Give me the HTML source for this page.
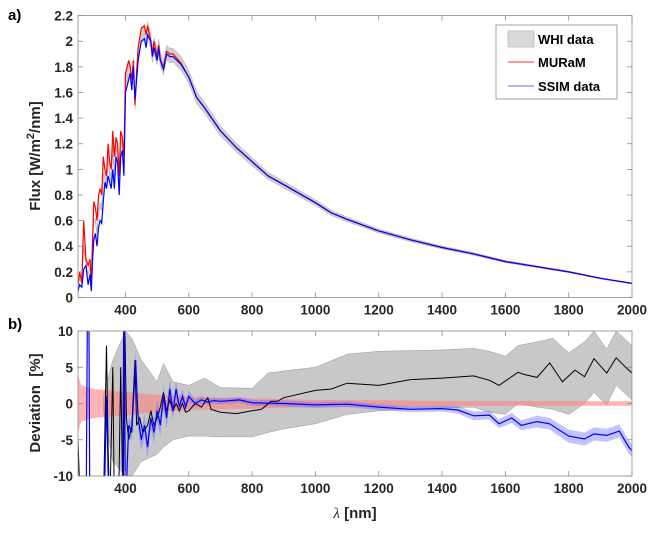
<!DOCTYPE html>
<html><head><meta charset="utf-8"><style>
html,body{margin:0;padding:0;background:#fff;}
svg{display:block;font-family:"Liberation Sans",Arial,sans-serif;}
.tk{font-size:13.5px;font-weight:bold;fill:#262626;}
</style></head><body>
<svg id="chart" width="654" height="535" viewBox="0 0 654 535">
<g id="pa"></g>
<g id="pb"></g>
<text x="8" y="20" style="font-size:15px;font-weight:bold">a)</text>
<text x="8" y="329" style="font-size:15px;font-weight:bold">b)</text>
<text transform="translate(40,156) rotate(-90)" text-anchor="middle" style="font-size:15px;font-weight:bold;fill:#262626">Flux [W/m<tspan dy="-6" font-size="11">2</tspan><tspan dy="6">/nm]</tspan></text>
<text transform="translate(40,403) rotate(-90)" text-anchor="middle" style="font-size:15px;font-weight:bold;fill:#262626">Deviation&#160;&#160;[%]</text>
<text x="355" y="518" text-anchor="middle" style="font-size:15px;font-weight:bold;fill:#262626"><tspan font-family="Liberation Serif" font-style="italic" font-weight="normal">λ</tspan> [nm]</text>
<g>
<rect x="496" y="25" width="121" height="74" fill="#fff" stroke="#8c8c8c" stroke-width="0.8"/>
<rect x="508" y="31" width="26" height="16" fill="#d9d9d9" stroke="#aaa" stroke-width="0.6"/>
<text x="538" y="44" style="font-size:13px;font-weight:bold">WHI data</text>
<line x1="508" y1="62" x2="534" y2="62" stroke="#ff3030" stroke-width="1"/>
<text x="538" y="67" style="font-size:13px;font-weight:bold">MURaM</text>
<line x1="508" y1="86" x2="534" y2="86" stroke="#9999ff" stroke-width="1.5"/>
<text x="538" y="91" style="font-size:13px;font-weight:bold">SSIM data</text>
</g>
</svg>
<script>
// ---- Panel a data ----
const wlA=[250,255,262,268,275,282,288,292,296,300,305,310,315,320,325,330,335,340,345,350,355,360,365,370,375,380,385,390,395,400,405,410,415,420,425,430,435,440,450,460,465,470,480,485,490,500,505,510,520,530,540,550,575,600,625,650,700,750,800,850,900,1000,1050,1100,1200,1300,1400,1500,1600,1700,1800,1900,2000];
const ssimA=[0.05,0.1,0.08,0.22,0.25,0.1,0.18,0.05,0.3,0.45,0.5,0.4,0.55,0.6,0.58,0.75,0.9,0.85,0.95,0.9,0.85,1.0,0.85,1.1,1.05,0.8,1.1,1.15,0.95,1.6,1.65,1.7,1.75,1.62,1.8,1.55,1.7,1.85,2.0,2.02,1.95,2.05,2.0,1.88,1.95,1.85,1.95,1.85,1.78,1.9,1.88,1.88,1.82,1.72,1.56,1.48,1.3,1.17,1.06,0.95,0.88,0.74,0.66,0.61,0.52,0.45,0.39,0.34,0.28,0.24,0.2,0.15,0.11];
const muramA=[0.1,0.2,0.12,0.6,0.3,0.25,0.3,0.1,0.45,0.75,0.7,0.6,0.8,0.85,0.8,1.1,1.0,0.95,1.2,1.05,1.0,1.3,1.1,1.25,1.2,0.95,1.3,1.25,1.1,1.75,1.8,1.85,1.8,1.7,1.85,1.5,1.75,1.95,2.1,2.12,2.05,2.12,2.0,1.9,2.0,1.88,1.97,1.86,1.8,1.92,1.9,1.9,1.83,1.72,1.56,1.48,1.3,1.17,1.06,0.95,0.88,0.74,0.66,0.61,0.52,0.45,0.39,0.34,0.28,0.24,0.2,0.15,0.11];
const whiA=[0.07,0.15,0.1,0.4,0.27,0.18,0.24,0.08,0.38,0.6,0.6,0.5,0.67,0.72,0.7,0.92,0.95,0.9,1.07,0.97,0.92,1.15,0.97,1.17,1.12,0.87,1.2,1.2,1.02,1.67,1.72,1.77,1.77,1.66,1.82,1.52,1.72,1.9,2.05,2.07,2.0,2.09,2.0,1.89,1.97,1.87,1.96,1.86,1.79,1.91,1.89,1.89,1.83,1.72,1.56,1.48,1.3,1.17,1.06,0.95,0.88,0.74,0.66,0.61,0.52,0.45,0.39,0.34,0.28,0.24,0.2,0.15,0.11];
const whiErrPct=[3,3,3,3,3,3,3,3,3,3,3,3,3,3,3,3,3,3,3,3,3,3,3,3,3,3,3,3,3,3,3,3,3,3,3,3,3,3,3,3,3,3,3,3,3,3,3,3,3,3,3,3,3,3,3,3,3,3,3,3,3,3,3,3,3,3,3,3,3,3,3,3,3];
const yTicksA=[0,0.2,0.4,0.6,0.8,1,1.2,1.4,1.6,1.8,2,2.2];
const xTicks=[400,600,800,1000,1200,1400,1600,1800,2000];
// ---- Panel b data ----
const wlBlk=[250,258,330,340,345,350,360,365,378,385,392,398,403,410,420,430,435,445,455,470,480,490,500,510,520,530,540,550,560,570,580,590,600,620,640,660,670,700,750,800,830,860,880,900,1000,1050,1100,1200,1300,1400,1500,1550,1580,1640,1660,1700,1740,1780,1820,1850,1880,1920,1950,1980,2000];
const devBlk=[-5,-15,-15,8,-6,-15,5,-15,-15,5,-15,10,-2,-5,-3,6,-3,-2,-4,-3,-1,-3,-2,-0.5,1.5,-1,0.5,-1,0,-1,0,-1.2,-1,0,-0.5,0.8,-0.8,-1.2,-1.4,-1.0,-0.8,0.3,0.3,0.8,1.8,2.0,2.8,2.5,3.3,3.5,3.8,3.2,2.5,4.3,4.0,3.6,5.6,3.0,4.6,3.7,6.2,4.2,6.3,5.0,4.2];
const wlBand=[330,360,400,420,450,500,520,550,600,650,700,800,850,900,1000,1100,1200,1300,1400,1500,1550,1600,1640,1700,1750,1800,1850,1880,1920,1950,2000];
const bandHi=[1,6,10,9,6,3,5.5,3,2.5,3.5,2.2,2.1,4.2,4.5,5,6.8,7.2,7.3,7.4,7.6,7.2,6.5,8,8.5,9,7,8.5,10,7.5,10,8];
const bandLo=[-1,-8,-10,-10,-8,-7,-6,-5,-4.5,-4.5,-4.6,-4.6,-4,-3.5,-2.8,-1.5,-1,-0.8,-0.6,-0.5,-1.2,-1.5,0,-0.5,-0.8,-1.5,0,1.5,-0.2,2.5,0.5];
const wlBlu=[250,275,280,284,288,330,340,350,390,395,400,410,420,432,440,450,460,470,480,490,500,510,520,530,540,550,560,570,580,590,600,620,640,660,680,700,760,800,900,1000,1100,1200,1300,1400,1450,1500,1550,1580,1620,1650,1700,1740,1800,1850,1880,1920,1960,1990,2000];
const devBlu=[-20,-20,15,15,-20,-20,1,-20,-20,15,-15,-3,-4,6,-2,-5,-3,-6,-2,-4,-1,-3,1,-2,2,-1,2,-0.5,1,-0.5,1,0,0.5,0.2,0.4,0.3,0.5,0.1,0,-0.2,-0.1,-0.5,-0.8,-0.7,-0.9,-1.7,-1.6,-2.8,-2.0,-3.0,-2.5,-2.8,-4.5,-4.9,-4.2,-4.4,-3.8,-6,-6.5];
const bluErr=[1,1,1,1,1,1,1,1,1,1,1,1.2,1.3,1.5,1.5,1.5,1.5,1.5,1.5,1.5,1.5,1.5,1.5,1.5,1.5,1.2,1.2,1.0,1.0,0.8,0.8,0.5,0.5,0.4,0.4,0.4,0.4,0.4,0.4,0.4,0.4,0.4,0.4,0.4,0.5,0.6,0.6,0.6,0.7,0.7,0.8,0.8,0.9,0.9,0.9,0.9,0.9,0.9,0.9];
const wlRed=[250,260,300,400,500,600,800,1000,1500,2000];
const redErr=[4,2.5,2,1.6,1.2,0.9,0.7,0.5,0.35,0.3];
const yTicksB=[-10,-5,0,5,10];

const NS="http://www.w3.org/2000/svg";
const L=78,R=632;
const xS=w=>L+(w-250)/(2000-250)*(R-L);
const aT=15.6,aB=297.5,yA=v=>aB-v/2.2*(aB-aT);
const bT=331,bB=476,yB=v=>bB-(v+10)/20*(bB-bT);
function mk(p,tag,at){const e=document.createElementNS(NS,tag);for(const k in at)e.setAttribute(k,at[k]);p.appendChild(e);return e;}
function pts(xs,ys,ysc){return xs.map((w,i)=>xS(w).toFixed(1)+","+ysc(ys[i]).toFixed(1)).join(" ");}
function band(xs,hi,lo,ysc){const a=xs.map((w,i)=>xS(w).toFixed(1)+","+ysc(hi[i]).toFixed(1));const b=xs.map((w,i)=>xS(w).toFixed(1)+","+ysc(lo[i]).toFixed(1)).reverse();return a.concat(b).join(" ");}
function axes(g,top,bot,yt,ysc,fmt){
  const f=mk(g,"rect",{x:L,y:top,width:R-L,height:bot-top,fill:"none",stroke:"#8c8c8c","stroke-width":"0.8"});
  
  
  xTicks.forEach(t=>{const x=xS(t);
    mk(g,"line",{x1:x,y1:bot,x2:x,y2:bot-5,stroke:"#8c8c8c","stroke-width":"0.8"});
    mk(g,"line",{x1:x,y1:top,x2:x,y2:top+5,stroke:"#8c8c8c","stroke-width":"0.8"});
    const tx=mk(g,"text",{x:x,y:bot+17,"text-anchor":"middle",class:"tk"});tx.textContent=t;
    
    
  });
  yt.forEach(t=>{const y=ysc(t);
    mk(g,"line",{x1:L,y1:y,x2:L+5,y2:y,stroke:"#8c8c8c","stroke-width":"0.8"});
    mk(g,"line",{x1:R,y1:y,x2:R-5,y2:y,stroke:"#8c8c8c","stroke-width":"0.8"});
    const tx=mk(g,"text",{x:L-5,y:y+5,"text-anchor":"end",class:"tk"});tx.textContent=fmt(t);
    
    
  });
}
// panel a
const pa=document.getElementById("pa");
const cpA=mk(pa,"clipPath",{id:"ca"});mk(cpA,"rect",{x:L,y:aT,width:R-L,height:aB-aT});
const ga=mk(pa,"g",{"clip-path":"url(#ca)"});
const wb=mk(ga,"polygon",{points:band(wlA,whiA.map((v,i)=>v*(1+whiErrPct[i]/100)),whiA.map((v,i)=>v*(1-whiErrPct[i]/100)),yA),fill:"#cfcfcf",stroke:"#b0b0b0","stroke-width":"0.5"});


const ml=mk(ga,"polyline",{points:pts(wlA,muramA,yA),fill:"none",stroke:"#ff0000","stroke-width":"1.2"});


const sl=mk(ga,"polyline",{points:pts(wlA,ssimA,yA),fill:"none",stroke:"#0000ff","stroke-width":"1.2"});


axes(pa,aT,aB,yTicksA,yA,t=>t===0||t===1||t===2?String(t):t.toFixed(1));
// panel b
const pb=document.getElementById("pb");
const cpB=mk(pb,"clipPath",{id:"cb"});mk(cpB,"rect",{x:L,y:bT,width:R-L,height:bB-bT});
const gb=mk(pb,"g",{"clip-path":"url(#cb)"});
const gband=mk(gb,"polygon",{points:band(wlBand,bandHi,bandLo,yB),fill:"#c8c8c8",stroke:"#999","stroke-width":"0.5"});


const rb=mk(gb,"polygon",{points:band(wlRed,redErr,redErr.map(v=>-v),yB),fill:"#ff8080","fill-opacity":"0.6"});


const bb=mk(gb,"polygon",{points:band(wlBlu,devBlu.map((v,i)=>v+bluErr[i]),devBlu.map((v,i)=>v-bluErr[i]),yB),fill:"#6666ff","fill-opacity":"0.4"});


const kl=mk(gb,"polyline",{points:pts(wlBlk,devBlk,yB),fill:"none",stroke:"#000","stroke-width":"1"});


const bl=mk(gb,"polyline",{points:pts(wlBlu,devBlu,yB),fill:"none",stroke:"#0000ff","stroke-width":"1.2"});


axes(pb,bT,bB,yTicksB,yB,t=>String(t));
</script>
</body></html>
